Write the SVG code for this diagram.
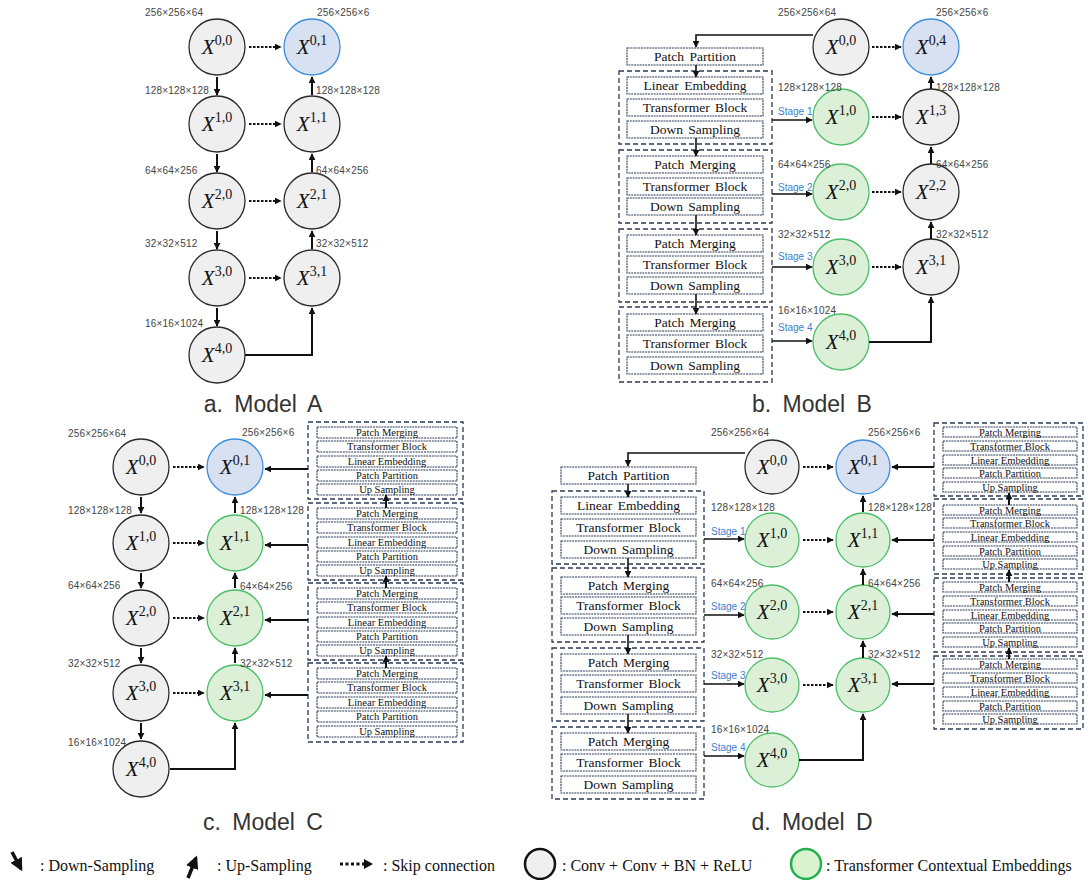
<svg xmlns="http://www.w3.org/2000/svg" width="1092" height="880" viewBox="0 0 1092 880">
<style>
.bg{fill:#fff}
.ng{fill:#efefef;stroke:#2a2a2a;stroke-width:1.3}
.nb{fill:#d8e1f2;stroke:#3d8fdb;stroke-width:1.3}
.nn{fill:#dcf0d8;stroke:#4cbd68;stroke-width:1.3}
.nl{font-family:"Liberation Serif",serif;text-anchor:middle;fill:#111}
.xi{font-style:italic;font-size:21px}
.sp{font-size:14px}
.dim{font-family:"Liberation Sans",sans-serif;font-size:10px;fill:#444;letter-spacing:0.2px}
.stg{font-family:"Liberation Sans",sans-serif;font-size:10px;fill:#3d7fd0}
.box{fill:#fff;stroke:#2b3a55;stroke-width:1.1;stroke-dasharray:2,0.8}
.grp{fill:none;stroke:#2b3a55;stroke-width:1.3;stroke-dasharray:5,3}
.bt{font-family:"Liberation Serif",serif;font-size:13.5px;fill:#111;text-anchor:middle;word-spacing:2px}
.bs{font-family:"Liberation Serif",serif;font-size:10.5px;fill:#111;text-anchor:middle}
.ar{fill:none;stroke:#111;stroke-width:2;marker-end:url(#ah)}
.al{fill:none;stroke:#111;stroke-width:1.6;marker-end:url(#ah)}
.sk{fill:none;stroke:#111;stroke-width:2;stroke-dasharray:2.5,1.5;marker-end:url(#ah)}
.ttl{font-family:"Liberation Sans",sans-serif;font-size:23px;fill:#333;text-anchor:middle;word-spacing:5px}
.lg{font-family:"Liberation Serif",serif;font-size:16px;fill:#111}
</style>
<defs>
<marker id="ah" viewBox="0 0 10 10" refX="9" refY="5" markerWidth="7" markerHeight="7" markerUnits="userSpaceOnUse" orient="auto"><path d="M0,0 L10,5 L0,10 z" fill="#111"/></marker>
<marker id="ahb" viewBox="0 0 10 10" refX="8" refY="5" markerWidth="13" markerHeight="13" markerUnits="userSpaceOnUse" orient="auto"><path d="M0,0 L10,5 L0,10 z" fill="#111"/></marker>
</defs>
<rect class="bg" x="0" y="0" width="1092" height="880"/>

<!-- ===== Model A ===== -->
<g id="A-X00"><circle class="ng" cx="217" cy="47" r="28"/><text class="nl" x="217" y="54"><tspan class="xi">X</tspan><tspan class="sp" dy="-9">0,0</tspan></text></g>
<g id="A-X01"><circle class="nb" cx="312" cy="47" r="28"/><text class="nl" x="312" y="54"><tspan class="xi">X</tspan><tspan class="sp" dy="-9">0,1</tspan></text></g>
<g id="A-X10"><circle class="ng" cx="217" cy="124" r="28"/><text class="nl" x="217" y="131"><tspan class="xi">X</tspan><tspan class="sp" dy="-9">1,0</tspan></text></g>
<g id="A-X11"><circle class="ng" cx="312" cy="124" r="28"/><text class="nl" x="312" y="131"><tspan class="xi">X</tspan><tspan class="sp" dy="-9">1,1</tspan></text></g>
<g id="A-X20"><circle class="ng" cx="217" cy="201" r="28"/><text class="nl" x="217" y="208"><tspan class="xi">X</tspan><tspan class="sp" dy="-9">2,0</tspan></text></g>
<g id="A-X21"><circle class="ng" cx="312" cy="201" r="28"/><text class="nl" x="312" y="208"><tspan class="xi">X</tspan><tspan class="sp" dy="-9">2,1</tspan></text></g>
<g id="A-X30"><circle class="ng" cx="217" cy="278" r="28"/><text class="nl" x="217" y="285"><tspan class="xi">X</tspan><tspan class="sp" dy="-9">3,0</tspan></text></g>
<g id="A-X31"><circle class="ng" cx="312" cy="278" r="28"/><text class="nl" x="312" y="285"><tspan class="xi">X</tspan><tspan class="sp" dy="-9">3,1</tspan></text></g>
<g id="A-X40"><circle class="ng" cx="217" cy="355" r="28"/><text class="nl" x="217" y="362"><tspan class="xi">X</tspan><tspan class="sp" dy="-9">4,0</tspan></text></g>
<g id="A-labels">
<text class="dim" x="145" y="16">256×256×64</text>
<text class="dim" x="317" y="16">256×256×6</text>
<text class="dim" x="145" y="94">128×128×128</text>
<text class="dim" x="316" y="94">128×128×128</text>
<text class="dim" x="145" y="174">64×64×256</text>
<text class="dim" x="316" y="174">64×64×256</text>
<text class="dim" x="145" y="247">32×32×512</text>
<text class="dim" x="316" y="247">32×32×512</text>
<text class="dim" x="145" y="327">16×16×1024</text>
<text class="ttl" x="263" y="412">a. Model A</text>
</g>
<g id="A-connectors">
<path class="ar" d="M217,77 V95"/><path class="ar" d="M217,154 V172"/><path class="ar" d="M217,231 V249"/><path class="ar" d="M217,308 V326"/>
<path class="ar" d="M312,95 V77"/><path class="ar" d="M312,172 V154"/><path class="ar" d="M312,249 V231"/>
<path class="sk" d="M249,47 H281"/><path class="sk" d="M249,124 H281"/><path class="sk" d="M249,201 H281"/><path class="sk" d="M249,278 H281"/>
<path class="ar" d="M245,355 H312 V308"/>
</g>

<!-- ===== Model B ===== -->
<g id="B-X00"><circle class="ng" cx="841" cy="47" r="28"/><text class="nl" x="841" y="54"><tspan class="xi">X</tspan><tspan class="sp" dy="-9">0,0</tspan></text></g>
<g id="B-X04"><circle class="nb" cx="931" cy="47" r="28"/><text class="nl" x="931" y="54"><tspan class="xi">X</tspan><tspan class="sp" dy="-9">0,4</tspan></text></g>
<g id="B-X10"><circle class="nn" cx="841" cy="117" r="28"/><text class="nl" x="841" y="124"><tspan class="xi">X</tspan><tspan class="sp" dy="-9">1,0</tspan></text></g>
<g id="B-X13"><circle class="ng" cx="931" cy="117" r="28"/><text class="nl" x="931" y="124"><tspan class="xi">X</tspan><tspan class="sp" dy="-9">1,3</tspan></text></g>
<g id="B-X20"><circle class="nn" cx="841" cy="192" r="28"/><text class="nl" x="841" y="199"><tspan class="xi">X</tspan><tspan class="sp" dy="-9">2,0</tspan></text></g>
<g id="B-X22"><circle class="ng" cx="931" cy="192" r="28"/><text class="nl" x="931" y="199"><tspan class="xi">X</tspan><tspan class="sp" dy="-9">2,2</tspan></text></g>
<g id="B-X30"><circle class="nn" cx="841" cy="267" r="28"/><text class="nl" x="841" y="274"><tspan class="xi">X</tspan><tspan class="sp" dy="-9">3,0</tspan></text></g>
<g id="B-X31"><circle class="ng" cx="931" cy="267" r="28"/><text class="nl" x="931" y="274"><tspan class="xi">X</tspan><tspan class="sp" dy="-9">3,1</tspan></text></g>
<g id="B-X40"><circle class="nn" cx="841" cy="342" r="28"/><text class="nl" x="841" y="349"><tspan class="xi">X</tspan><tspan class="sp" dy="-9">4,0</tspan></text></g>
<g id="B-PP"><rect class="box" x="627" y="48" width="136" height="17"/><text class="bt" x="695" y="61">Patch Partition</text></g>
<g id="B-S1"><rect class="grp" x="619" y="71" width="153" height="73"/>
<rect class="box" x="627" y="77" width="136" height="17"/><text class="bt" x="695" y="90">Linear Embedding</text>
<rect class="box" x="627" y="99" width="136" height="17"/><text class="bt" x="695" y="112">Transformer Block</text>
<rect class="box" x="627" y="121" width="136" height="17"/><text class="bt" x="695" y="134">Down Sampling</text></g>
<g id="B-S2"><rect class="grp" x="619" y="150" width="153" height="73"/>
<rect class="box" x="627" y="156" width="136" height="17"/><text class="bt" x="695" y="169">Patch Merging</text>
<rect class="box" x="627" y="178" width="136" height="17"/><text class="bt" x="695" y="191">Transformer Block</text>
<rect class="box" x="627" y="198" width="136" height="17"/><text class="bt" x="695" y="211">Down Sampling</text></g>
<g id="B-S3"><rect class="grp" x="619" y="229" width="153" height="73"/>
<rect class="box" x="627" y="235" width="136" height="17"/><text class="bt" x="695" y="248">Patch Merging</text>
<rect class="box" x="627" y="256" width="136" height="17"/><text class="bt" x="695" y="269">Transformer Block</text>
<rect class="box" x="627" y="277" width="136" height="17"/><text class="bt" x="695" y="290">Down Sampling</text></g>
<g id="B-S4"><rect class="grp" x="619" y="307" width="153" height="75"/>
<rect class="box" x="627" y="314" width="136" height="17"/><text class="bt" x="695" y="327">Patch Merging</text>
<rect class="box" x="627" y="335" width="136" height="17"/><text class="bt" x="695" y="348">Transformer Block</text>
<rect class="box" x="627" y="357" width="136" height="17"/><text class="bt" x="695" y="370">Down Sampling</text></g>
<g id="B-labels">
<text class="dim" x="778" y="16">256×256×64</text>
<text class="dim" x="936" y="16">256×256×6</text>
<text class="dim" x="778" y="91">128×128×128</text>
<text class="dim" x="936" y="91">128×128×128</text>
<text class="dim" x="778" y="168">64×64×256</text>
<text class="dim" x="936" y="168">64×64×256</text>
<text class="dim" x="778" y="238">32×32×512</text>
<text class="dim" x="936" y="238">32×32×512</text>
<text class="dim" x="778" y="314">16×16×1024</text>
<text class="stg" x="778" y="115">Stage 1</text>
<text class="stg" x="778" y="191">Stage 2</text>
<text class="stg" x="778" y="260">Stage 3</text>
<text class="stg" x="778" y="331">Stage 4</text>
<text class="ttl" x="812" y="412">b. Model B</text>
</g>
<g id="B-connectors">
<path class="al" d="M813,35 H696 V47"/>
<path class="al" d="M696,65 V77"/><path class="al" d="M696,138 V156"/><path class="al" d="M696,215 V235"/><path class="al" d="M696,294 V314"/>
<path class="al" d="M772,120 H812"/><path class="al" d="M772,194 H812"/><path class="al" d="M772,267 H812"/><path class="al" d="M772,341 H812"/>
<path class="sk" d="M872,47 H901"/><path class="sk" d="M872,117 H901"/><path class="sk" d="M872,192 H901"/><path class="sk" d="M872,267 H901"/>
<path class="ar" d="M931,89 V77"/><path class="ar" d="M931,164 V147"/><path class="ar" d="M931,239 V222"/>
<path class="ar" d="M869,342 H931 V297"/>
</g>

<!-- ===== Model C ===== -->
<g id="C-X00"><circle class="ng" cx="141" cy="467" r="28"/><text class="nl" x="141" y="474"><tspan class="xi">X</tspan><tspan class="sp" dy="-9">0,0</tspan></text></g>
<g id="C-X01"><circle class="nb" cx="235" cy="467" r="28"/><text class="nl" x="235" y="474"><tspan class="xi">X</tspan><tspan class="sp" dy="-9">0,1</tspan></text></g>
<g id="C-X10"><circle class="ng" cx="141" cy="543" r="28"/><text class="nl" x="141" y="550"><tspan class="xi">X</tspan><tspan class="sp" dy="-9">1,0</tspan></text></g>
<g id="C-X11"><circle class="nn" cx="235" cy="543" r="28"/><text class="nl" x="235" y="550"><tspan class="xi">X</tspan><tspan class="sp" dy="-9">1,1</tspan></text></g>
<g id="C-X20"><circle class="ng" cx="141" cy="618" r="28"/><text class="nl" x="141" y="625"><tspan class="xi">X</tspan><tspan class="sp" dy="-9">2,0</tspan></text></g>
<g id="C-X21"><circle class="nn" cx="235" cy="618" r="28"/><text class="nl" x="235" y="625"><tspan class="xi">X</tspan><tspan class="sp" dy="-9">2,1</tspan></text></g>
<g id="C-X30"><circle class="ng" cx="141" cy="693" r="28"/><text class="nl" x="141" y="700"><tspan class="xi">X</tspan><tspan class="sp" dy="-9">3,0</tspan></text></g>
<g id="C-X31"><circle class="nn" cx="235" cy="693" r="28"/><text class="nl" x="235" y="700"><tspan class="xi">X</tspan><tspan class="sp" dy="-9">3,1</tspan></text></g>
<g id="C-X40"><circle class="ng" cx="141" cy="769" r="28"/><text class="nl" x="141" y="776"><tspan class="xi">X</tspan><tspan class="sp" dy="-9">4,0</tspan></text></g>
<g id="C-U1"><rect class="grp" x="308" y="422" width="155" height="77"/>
<rect class="box" x="317" y="427" width="140" height="11"/><text class="bs" x="387" y="436">Patch Merging</text>
<rect class="box" x="317" y="441" width="140" height="11"/><text class="bs" x="387" y="450">Transformer Block</text>
<rect class="box" x="317" y="456" width="140" height="11"/><text class="bs" x="387" y="465">Linear Embedding</text>
<rect class="box" x="317" y="470" width="140" height="11"/><text class="bs" x="387" y="479">Patch Partition</text>
<rect class="box" x="317" y="484" width="140" height="11"/><text class="bs" x="387" y="493">Up Sampling</text></g>
<g id="C-U2"><rect class="grp" x="308" y="503" width="155" height="77"/>
<rect class="box" x="317" y="508" width="140" height="11"/><text class="bs" x="387" y="517">Patch Merging</text>
<rect class="box" x="317" y="522" width="140" height="11"/><text class="bs" x="387" y="531">Transformer Block</text>
<rect class="box" x="317" y="537" width="140" height="11"/><text class="bs" x="387" y="546">Linear Embedding</text>
<rect class="box" x="317" y="551" width="140" height="11"/><text class="bs" x="387" y="560">Patch Partition</text>
<rect class="box" x="317" y="565" width="140" height="11"/><text class="bs" x="387" y="574">Up Sampling</text></g>
<g id="C-U3"><rect class="grp" x="308" y="583" width="155" height="77"/>
<rect class="box" x="317" y="588" width="140" height="11"/><text class="bs" x="387" y="597">Patch Merging</text>
<rect class="box" x="317" y="602" width="140" height="11"/><text class="bs" x="387" y="611">Transformer Block</text>
<rect class="box" x="317" y="617" width="140" height="11"/><text class="bs" x="387" y="626">Linear Embedding</text>
<rect class="box" x="317" y="631" width="140" height="11"/><text class="bs" x="387" y="640">Patch Partition</text>
<rect class="box" x="317" y="645" width="140" height="11"/><text class="bs" x="387" y="654">Up Sampling</text></g>
<g id="C-U4"><rect class="grp" x="308" y="663" width="155" height="79"/>
<rect class="box" x="317" y="668" width="140" height="11"/><text class="bs" x="387" y="677">Patch Merging</text>
<rect class="box" x="317" y="682" width="140" height="11"/><text class="bs" x="387" y="691">Transformer Block</text>
<rect class="box" x="317" y="697" width="140" height="11"/><text class="bs" x="387" y="706">Linear Embedding</text>
<rect class="box" x="317" y="711" width="140" height="11"/><text class="bs" x="387" y="720">Patch Partition</text>
<rect class="box" x="317" y="726" width="140" height="11"/><text class="bs" x="387" y="735">Up Sampling</text></g>
<g id="C-labels">
<text class="dim" x="68" y="437">256×256×64</text>
<text class="dim" x="242" y="436">256×256×6</text>
<text class="dim" x="68" y="514">128×128×128</text>
<text class="dim" x="240" y="514">128×128×128</text>
<text class="dim" x="68" y="589">64×64×256</text>
<text class="dim" x="240" y="590">64×64×256</text>
<text class="dim" x="68" y="667">32×32×512</text>
<text class="dim" x="240" y="667">32×32×512</text>
<text class="dim" x="68" y="746">16×16×1024</text>
<text class="ttl" x="263" y="830">c. Model C</text>
</g>
<g id="C-connectors">
<path class="ar" d="M141,497 V513"/><path class="ar" d="M141,573 V588"/><path class="ar" d="M141,648 V663"/><path class="ar" d="M141,723 V739"/>
<path class="ar" d="M235,513 V497"/><path class="ar" d="M235,588 V573"/><path class="ar" d="M235,663 V648"/>
<path class="sk" d="M173,467 H204"/><path class="sk" d="M173,543 H204"/><path class="sk" d="M173,618 H204"/><path class="sk" d="M173,693 H204"/>
<path class="ar" d="M308,469 H265"/><path class="ar" d="M308,545 H265"/><path class="ar" d="M308,620 H265"/><path class="ar" d="M308,695 H265"/>
<path class="ar" d="M386,508 V495"/><path class="ar" d="M386,588 V576"/><path class="ar" d="M386,668 V656"/>
<path class="ar" d="M170,769 H235 V723"/>
</g>

<!-- ===== Model D ===== -->
<g id="D-X00"><circle class="ng" cx="772" cy="467" r="27"/><text class="nl" x="772" y="474"><tspan class="xi">X</tspan><tspan class="sp" dy="-9">0,0</tspan></text></g>
<g id="D-X01"><circle class="nb" cx="863" cy="467" r="27"/><text class="nl" x="863" y="474"><tspan class="xi">X</tspan><tspan class="sp" dy="-9">0,1</tspan></text></g>
<g id="D-X10"><circle class="nn" cx="772" cy="540" r="27"/><text class="nl" x="772" y="547"><tspan class="xi">X</tspan><tspan class="sp" dy="-9">1,0</tspan></text></g>
<g id="D-X11"><circle class="nn" cx="863" cy="540" r="27"/><text class="nl" x="863" y="547"><tspan class="xi">X</tspan><tspan class="sp" dy="-9">1,1</tspan></text></g>
<g id="D-X20"><circle class="nn" cx="772" cy="612" r="27"/><text class="nl" x="772" y="619"><tspan class="xi">X</tspan><tspan class="sp" dy="-9">2,0</tspan></text></g>
<g id="D-X21"><circle class="nn" cx="863" cy="612" r="27"/><text class="nl" x="863" y="619"><tspan class="xi">X</tspan><tspan class="sp" dy="-9">2,1</tspan></text></g>
<g id="D-X30"><circle class="nn" cx="772" cy="685" r="27"/><text class="nl" x="772" y="692"><tspan class="xi">X</tspan><tspan class="sp" dy="-9">3,0</tspan></text></g>
<g id="D-X31"><circle class="nn" cx="863" cy="685" r="27"/><text class="nl" x="863" y="692"><tspan class="xi">X</tspan><tspan class="sp" dy="-9">3,1</tspan></text></g>
<g id="D-X40"><circle class="nn" cx="772" cy="760" r="27"/><text class="nl" x="772" y="767"><tspan class="xi">X</tspan><tspan class="sp" dy="-9">4,0</tspan></text></g>
<g id="D-PP"><rect class="box" x="561" y="467" width="135" height="17"/><text class="bt" x="628.5" y="480">Patch Partition</text></g>
<g id="D-S1"><rect class="grp" x="552" y="491" width="152" height="73"/>
<rect class="box" x="561" y="497" width="135" height="17"/><text class="bt" x="628.5" y="510">Linear Embedding</text>
<rect class="box" x="561" y="519" width="135" height="17"/><text class="bt" x="628.5" y="532">Transformer Block</text>
<rect class="box" x="561" y="541" width="135" height="17"/><text class="bt" x="628.5" y="554">Down Sampling</text></g>
<g id="D-S2"><rect class="grp" x="552" y="568" width="152" height="74"/>
<rect class="box" x="561" y="577" width="135" height="17"/><text class="bt" x="628.5" y="590">Patch Merging</text>
<rect class="box" x="561" y="597" width="135" height="17"/><text class="bt" x="628.5" y="610">Transformer Block</text>
<rect class="box" x="561" y="618" width="135" height="17"/><text class="bt" x="628.5" y="631">Down Sampling</text></g>
<g id="D-S3"><rect class="grp" x="552" y="648" width="152" height="73"/>
<rect class="box" x="561" y="654" width="135" height="17"/><text class="bt" x="628.5" y="667">Patch Merging</text>
<rect class="box" x="561" y="675" width="135" height="17"/><text class="bt" x="628.5" y="688">Transformer Block</text>
<rect class="box" x="561" y="697" width="135" height="17"/><text class="bt" x="628.5" y="710">Down Sampling</text></g>
<g id="D-S4"><rect class="grp" x="552" y="727" width="152" height="72"/>
<rect class="box" x="561" y="733" width="135" height="17"/><text class="bt" x="628.5" y="746">Patch Merging</text>
<rect class="box" x="561" y="754" width="135" height="17"/><text class="bt" x="628.5" y="767">Transformer Block</text>
<rect class="box" x="561" y="776" width="135" height="17"/><text class="bt" x="628.5" y="789">Down Sampling</text></g>
<g id="D-U1"><rect class="grp" x="934" y="423" width="149" height="73"/>
<rect class="box" x="943" y="427" width="134" height="10"/><text class="bs" x="1010" y="435.5">Patch Merging</text>
<rect class="box" x="943" y="441" width="134" height="10"/><text class="bs" x="1010" y="449.5">Transformer Block</text>
<rect class="box" x="943" y="455" width="134" height="10"/><text class="bs" x="1010" y="463.5">Linear Embedding</text>
<rect class="box" x="943" y="468" width="134" height="10"/><text class="bs" x="1010" y="476.5">Patch Partition</text>
<rect class="box" x="943" y="482" width="134" height="10"/><text class="bs" x="1010" y="490.5">Up Sampling</text></g>
<g id="D-U2"><rect class="grp" x="934" y="499" width="149" height="75"/>
<rect class="box" x="943" y="505" width="134" height="10"/><text class="bs" x="1010" y="513.5">Patch Merging</text>
<rect class="box" x="943" y="518" width="134" height="10"/><text class="bs" x="1010" y="526.5">Transformer Block</text>
<rect class="box" x="943" y="532" width="134" height="10"/><text class="bs" x="1010" y="540.5">Linear Embedding</text>
<rect class="box" x="943" y="546" width="134" height="10"/><text class="bs" x="1010" y="554.5">Patch Partition</text>
<rect class="box" x="943" y="559" width="134" height="10"/><text class="bs" x="1010" y="567.5">Up Sampling</text></g>
<g id="D-U3"><rect class="grp" x="934" y="578" width="149" height="74"/>
<rect class="box" x="943" y="582" width="134" height="10"/><text class="bs" x="1010" y="590.5">Patch Merging</text>
<rect class="box" x="943" y="596" width="134" height="10"/><text class="bs" x="1010" y="604.5">Transformer Block</text>
<rect class="box" x="943" y="610" width="134" height="10"/><text class="bs" x="1010" y="618.5">Linear Embedding</text>
<rect class="box" x="943" y="623" width="134" height="10"/><text class="bs" x="1010" y="631.5">Patch Partition</text>
<rect class="box" x="943" y="637" width="134" height="10"/><text class="bs" x="1010" y="645.5">Up Sampling</text></g>
<g id="D-U4"><rect class="grp" x="934" y="656" width="149" height="73"/>
<rect class="box" x="943" y="659" width="134" height="10"/><text class="bs" x="1010" y="667.5">Patch Merging</text>
<rect class="box" x="943" y="673" width="134" height="10"/><text class="bs" x="1010" y="681.5">Transformer Block</text>
<rect class="box" x="943" y="687" width="134" height="10"/><text class="bs" x="1010" y="695.5">Linear Embedding</text>
<rect class="box" x="943" y="701" width="134" height="10"/><text class="bs" x="1010" y="709.5">Patch Partition</text>
<rect class="box" x="943" y="714" width="134" height="10"/><text class="bs" x="1010" y="722.5">Up Sampling</text></g>
<g id="D-labels">
<text class="dim" x="711" y="436">256×256×64</text>
<text class="dim" x="868" y="436">256×256×6</text>
<text class="dim" x="711" y="511">128×128×128</text>
<text class="dim" x="868" y="511">128×128×128</text>
<text class="dim" x="711" y="587">64×64×256</text>
<text class="dim" x="868" y="587">64×64×256</text>
<text class="dim" x="711" y="658">32×32×512</text>
<text class="dim" x="868" y="658">32×32×512</text>
<text class="dim" x="711" y="733">16×16×1024</text>
<text class="stg" x="711" y="535">Stage 1</text>
<text class="stg" x="711" y="610">Stage 2</text>
<text class="stg" x="711" y="679">Stage 3</text>
<text class="stg" x="711" y="751">Stage 4</text>
<text class="ttl" x="812" y="830">d. Model D</text>
</g>
<g id="D-connectors">
<path class="al" d="M745,453 H628 V466"/>
<path class="al" d="M628,484 V497"/><path class="al" d="M628,558 V577"/><path class="al" d="M628,635 V654"/><path class="al" d="M628,714 V733"/>
<path class="al" d="M704,539 H744"/><path class="al" d="M704,615 H744"/><path class="al" d="M704,684 H744"/><path class="al" d="M704,756 H744"/>
<path class="sk" d="M803,467 H833"/><path class="sk" d="M803,540 H833"/><path class="sk" d="M803,612 H833"/><path class="sk" d="M803,685 H833"/>
<path class="ar" d="M863,512 V496"/><path class="ar" d="M863,585 V569"/><path class="ar" d="M863,658 V641"/>
<path class="ar" d="M934,467 H892"/><path class="ar" d="M934,540 H892"/><path class="ar" d="M934,614 H892"/><path class="ar" d="M934,684 H892"/>
<path class="ar" d="M1009,505 V493"/><path class="ar" d="M1009,582 V570"/><path class="ar" d="M1009,659 V648"/>
<path class="ar" d="M799,760 H863 V714"/>
</g>

<!-- ===== Legend ===== -->
<g id="legend">
<path d="M12,852 L21,869" stroke="#111" stroke-width="3.5" fill="none" marker-end="url(#ahb)"/>
<text class="lg" x="40" y="871">: Down-Sampling</text>
<path d="M188,878 L196,858" stroke="#111" stroke-width="3.5" fill="none" marker-end="url(#ahb)"/>
<text class="lg" x="217" y="871">: Up-Sampling</text>
<path d="M340,864 H364" stroke="#111" stroke-width="3" stroke-dasharray="3,2.5" fill="none"/>
<path d="M364,859 L373,864 L364,869 z" fill="#111"/>
<text class="lg" x="383" y="871">: Skip connection</text>
<circle cx="540" cy="864" r="15" fill="#efefef" stroke="#111" stroke-width="2.5"/>
<text class="lg" x="562" y="871">: Conv + Conv + BN + ReLU</text>
<circle cx="806" cy="864" r="15" fill="#d9f2d0" stroke="#22b14c" stroke-width="2.5"/>
<text class="lg" x="826" y="871">: Transformer Contextual Embeddings</text>
</g>
</svg>
